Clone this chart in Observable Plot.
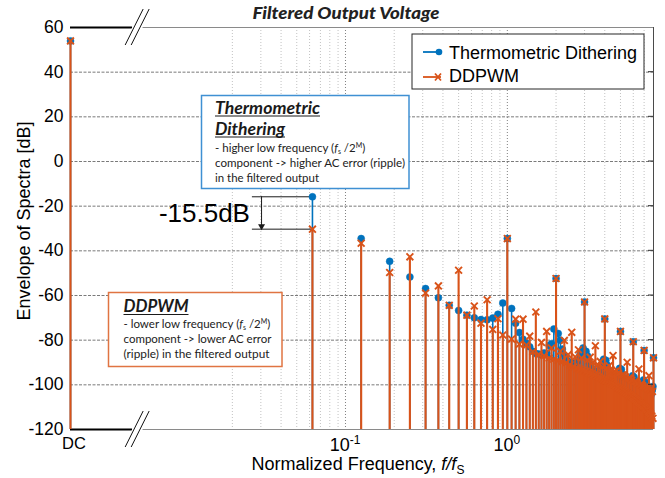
<!DOCTYPE html>
<html><head><meta charset="utf-8">
<script src="https://cdn.jsdelivr.net/npm/d3@7"></script>
<script src="https://cdn.jsdelivr.net/npm/@observablehq/plot@0.6"></script>
<style>
html,body{margin:0;padding:0;background:#fff;}
#chart{width:665px;height:478px;}
</style></head><body><div id="chart"></div>
<script>
// ---------------- data ----------------
const chartTitle = "Filtered Output Voltage";
const seriesNames = ["Thermometric Dithering", "DDPWM"];
const bitsM = 4;                 // harmonics at k * fs / 2^M
const dcLevel = [54, 54];        // [thermometric, ddpwm] DC component, dB
// envelope of spectra (dB) for harmonic k = 1..128
const thermometric = [
 -15.8,-34.5,-44.7,-51.7,-56.9,-61.0,-64.4,-66.7,-68.8,-70.0,-70.8,-70.9,-70.1,-68.4,-63.4,-34.5,
 -65.8,-72.4,-76.6,-79.6,-81.3,-83.0,-85.0,-86.0,-86.2,-86.5,-85.7,-86.0,-82.4,-81.6,-75.0,-52.4,
 -77.0,-80.0,-84.0,-87.0,-88.5,-89.5,-90.0,-90.0,-90.5,-90.5,-90.0,-89.0,-86.5,-85.0,-83.5,-62.9,
 -85.0,-87.0,-89.5,-91.0,-92.5,-93.5,-94.0,-94.5,-94.5,-94.0,-93.5,-92.5,-91.0,-89.5,-88.5,-70.5,
 -89.0,-91.0,-93.0,-95.0,-96.0,-97.0,-98.0,-98.0,-98.5,-98.0,-97.5,-96.5,-95.5,-94.0,-92.6,-76.1,
 -93.0,-95.0,-97.0,-98.5,-99.5,-100.5,-101.0,-101.5,-101.5,-101.0,-100.5,-99.5,-98.5,-97.5,-95.9,-80.7,
 -96.5,-98.0,-99.5,-101.0,-102.0,-103.0,-103.5,-104.0,-104.0,-103.5,-103.0,-102.0,-101.0,-100.0,-97.8,-84.6,
 -98.5,-100.0,-101.5,-103.0,-104.0,-105.0,-105.5,-106.0,-106.0,-105.5,-105.0,-104.0,-103.0,-102.0,-100.7,-87.9
];
const ddpwm = [
 -30.3,-36.6,-49.7,-42.7,-58.9,-55.7,-64.4,-48.7,-68.8,-64.7,-72.4,-61.9,-75.2,-70.4,-77.7,-34.5,
 -79.5,-70.6,-81.8,-70.6,-82.2,-78.2,-85.2,-67.4,-86.4,-81.0,-87.0,-76.1,-88.0,-83.5,-88.5,-52.4,
 -89.0,-85.0,-89.5,-80.1,-90.0,-86.5,-91.0,-76.5,-92.0,-87.5,-92.5,-84.3,-93.0,-88.0,-93.5,-62.9,
 -94.0,-89.0,-94.5,-87.6,-95.0,-90.0,-95.5,-82.5,-96.0,-91.0,-96.5,-89.5,-97.0,-92.0,-97.5,-70.5,
 -98.0,-92.5,-98.5,-91.5,-99.0,-93.5,-99.5,-86.9,-100.0,-94.0,-100.5,-93.5,-101.0,-95.0,-101.5,-76.1,
 -102.0,-95.5,-102.5,-95.5,-103.0,-96.5,-103.5,-89.9,-104.0,-97.0,-104.5,-97.0,-105.0,-98.0,-105.5,-80.7,
 -106.0,-98.5,-106.5,-98.5,-107.0,-99.5,-107.5,-92.9,-108.0,-100.0,-108.5,-99.5,-109.0,-100.5,-109.5,-84.6,
 -110.0,-101.0,-110.5,-100.5,-111.0,-101.5,-112.0,-95.9,-112.5,-102.0,-113.0,-101.5,-114.0,-103.0,-115.0,-87.9
];
const yTicks = [60, 40, 20, 0, -20, -40, -60, -80, -100, -120];
const xTickLabels = [{base: "10", exp: "-1", at: 0.1}, {base: "10", exp: "0", at: 1}];
const majorGrid = [0.1, 1];
const minorGrid = [0.02,0.03,0.04,0.05,0.06,0.07,0.08,0.09,0.2,0.3,0.4,0.5,0.6,0.7,0.8,0.9,2,3,4,5,6,7];
const deltaLabel = "-15.5dB";

// ---------------- layout constants ----------------
const DC_F = 0.002;       // where the DC bin sits at the left edge of the log axis
const X_MAX = 8;
const breakAt = 0.0052;
const blue = "#0072BD", orange = "#D95319";
const sans = "'Liberation Sans', Arial, Helvetica, sans-serif";
const calib = "Lato, 'Open Sans', 'Noto Sans', sans-serif";

const thermoData = [{f: DC_F, v: dcLevel[0]}, ...thermometric.map((v, i) => ({f: (i + 1) / 2 ** bitsM, v}))];
const ddpwmData  = [{f: DC_F, v: dcLevel[1]}, ...ddpwm.map((v, i) => ({f: (i + 1) / 2 ** bitsM, v}))];

const f1 = 1 / 2 ** bitsM;
const annX1 = 0.0266, arrowX = 0.0303, deltaTextX = 0.0257;

const plot = Plot.plot({
  width: 665, height: 478,
  marginLeft: 70, marginRight: 12, marginTop: 27, marginBottom: 49,
  style: {fontFamily: sans, fontSize: "17.5px", background: "#fff", overflow: "visible", color: "#000"},
  x: {type: "log", domain: [DC_F, X_MAX], axis: null},
  y: {domain: [-120, 60], axis: null},
  marks: [
    Plot.ruleX(minorGrid, {stroke: "#c2c2c2", strokeDasharray: "1,2", strokeWidth: 1}),
    Plot.ruleX(majorGrid, {stroke: "#808080", strokeDasharray: "1,2", strokeWidth: 1}),
    Plot.ruleY(yTicks.slice(1, -1), {stroke: "#7a7a7a", strokeDasharray: "3,1.5", strokeWidth: 1}),
    // frame
    Plot.ruleY([60, -120], {x1: breakAt * 1.08, x2: X_MAX, stroke: "#8a8a8a", strokeWidth: 1}),
    Plot.ruleY([60, -120], {x1: DC_F, x2: breakAt * 0.93, stroke: "#000", strokeWidth: 2}),
    Plot.ruleX([X_MAX], {stroke: "#4a4a4a", strokeWidth: 1}),
    // y tick labels
    Plot.text(yTicks, {x: DC_F, y: d => d, text: d => String(d), textAnchor: "end", dx: -7, fontSize: 17.5, fill: "#000"}),
    // -15.5 dB annotation
    Plot.ruleY([thermometric[0], ddpwm[0]], {x1: annX1, x2: f1, stroke: "#1a1a1a", strokeWidth: 1}),
    Plot.ruleX([arrowX], {y1: thermometric[0], y2: ddpwm[0], stroke: "#1a1a1a", strokeWidth: 1}),
    Plot.dot([arrowX], {x: d => d, y: ddpwm[0], symbol: "triangle", r: 2.6, rotate: 180, dy: -3, fill: "#1a1a1a"}),
    Plot.text([deltaLabel], {x: deltaTextX, y: -23.3, text: d => d, textAnchor: "end", fontSize: 26, fill: "#000"}),
    // stems: thermometric (blue) then ddpwm (orange)
    Plot.ruleX(thermoData, {x: "f", y1: -120, y2: "v", stroke: blue, strokeWidth: 1.6}),
    Plot.dot(thermoData, {x: "f", y: "v", r: 3.5, fill: blue, stroke: blue, strokeWidth: 0.5}),
    Plot.ruleX(ddpwmData, {x: "f", y1: -120, y2: "v", stroke: orange, strokeWidth: 2.1}),
    Plot.dot(ddpwmData, {x: "f", y: "v", symbol: "times", r: 3.2, stroke: orange, strokeWidth: 1.9})
  ]
});
document.getElementById("chart").appendChild(plot);

// ---------------- overlays ----------------
const sx = plot.scale("x"), sy = plot.scale("y");
const X = sx.apply ? v => sx.apply(v) : d3.scaleLog().domain([DC_F, X_MAX]).range([70, 653]);
const Y = sy.apply ? v => sy.apply(v) : d3.scaleLinear().domain([-120, 60]).range([429, 27]);
const svg = d3.select(plot);
const g = svg.append("g").attr("text-anchor", "start");

// right-side ticks
yTicks.slice(1, -1).forEach(t => {
  g.append("line").attr("x1", X(X_MAX) - 5).attr("x2", X(X_MAX)).attr("y1", Y(t)).attr("y2", Y(t))
   .attr("stroke", "#333").attr("stroke-width", 1);
});

// axis break marks
const bx = X(breakAt);
[Y(60), Y(-120)].forEach(yy => {
  [-3, 3].forEach(off => {
    g.append("line").attr("x1", bx + off - 9).attr("y1", yy + 18).attr("x2", bx + off + 9).attr("y2", yy - 18)
      .attr("stroke", "#fff").attr("stroke-width", 3);
  });
  [-3, 3].forEach(off => {
    g.append("line").attr("x1", bx + off - 9).attr("y1", yy + 18).attr("x2", bx + off + 9).attr("y2", yy - 18)
      .attr("stroke", "#111").attr("stroke-width", 1);
  });
});

// x tick labels
g.append("text").attr("x", X(DC_F) + 4).attr("y", 448.5).attr("text-anchor", "middle")
  .attr("font-family", sans).attr("font-size", 16.5).text("DC");
xTickLabels.forEach(t => {
  const tx = g.append("text").attr("x", X(t.at)).attr("y", 451).attr("text-anchor", "middle")
    .attr("font-family", sans).attr("font-size", 18);
  tx.append("tspan").text(t.base);
  tx.append("tspan").attr("dy", -7).attr("font-size", 12).text(t.exp);
});

// axis titles
const xl = g.append("text").attr("x", 358).attr("y", 470).attr("text-anchor", "middle")
  .attr("font-family", sans).attr("font-size", 18);
xl.append("tspan").text("Normalized Frequency, ");
xl.append("tspan").attr("font-style", "italic").text("f/f");
xl.append("tspan").attr("font-size", 12).attr("dy", 4).text("S");

g.append("text").attr("transform", "translate(30,221) rotate(-90)").attr("text-anchor", "middle")
  .attr("font-family", sans).attr("font-size", 18).text("Envelope of Spectra [dB]");

// title
g.append("text").attr("x", 346).attr("y", 19).attr("text-anchor", "middle")
  .attr("font-family", calib).attr("font-weight", "900").attr("font-style", "italic")
  .attr("font-size", 16).attr("fill", "#222").attr("textLength", 187).attr("lengthAdjust", "spacingAndGlyphs").text(chartTitle);

// legend
const lg = g.append("g");
lg.append("rect").attr("x", 412).attr("y", 34).attr("width", 232).attr("height", 55)
  .attr("fill", "#fff").attr("stroke", "#262626").attr("stroke-width", 1);
lg.append("line").attr("x1", 423).attr("x2", 441).attr("y1", 52).attr("y2", 52).attr("stroke", blue).attr("stroke-width", 1.8);
lg.append("circle").attr("cx", 439).attr("cy", 52).attr("r", 3.3).attr("fill", blue);
lg.append("line").attr("x1", 423).attr("x2", 441).attr("y1", 77).attr("y2", 77).attr("stroke", orange).attr("stroke-width", 1.8);
lg.append("path").attr("d", "M435,73.5L441,80.5M435,80.5L441,73.5").attr("stroke", orange).attr("stroke-width", 1.8);
lg.append("text").attr("x", 449).attr("y", 58.5).attr("text-anchor", "start").attr("font-family", sans).attr("font-size", 18).text(seriesNames[0]);
lg.append("text").attr("x", 449).attr("y", 82).attr("text-anchor", "start").attr("font-family", sans).attr("font-size", 18).text(seriesNames[1]);

// annotation boxes
function fsLine(parent, x, y, pre) {
  const t = parent.append("text").attr("x", x).attr("y", y).attr("text-anchor", "start").attr("font-family", calib).attr("font-size", 11.5).attr("fill", "#222");
  t.append("tspan").text(pre + " (");
  t.append("tspan").attr("font-style", "italic").text("f");
  t.append("tspan").attr("font-size", 7).attr("dy", 2).text("s");
  t.append("tspan").attr("dy", -2).text(" /2");
  t.append("tspan").attr("font-size", 7).attr("dy", -4).text("M");
  t.append("tspan").attr("dy", 4).text(")");
}
function plain(parent, x, y, s, w) {
  const t = parent.append("text").attr("x", x).attr("y", y).attr("text-anchor", "start").attr("font-family", calib).attr("font-size", 11.5).attr("fill", "#222").text(s);
  if (w) t.attr("textLength", w).attr("lengthAdjust", "spacingAndGlyphs");
}
function heading(parent, x, y, s, w) {
  parent.append("text").attr("x", x).attr("y", y).attr("text-anchor", "start").attr("font-family", calib).attr("font-weight", "bold")
    .attr("font-style", "italic").attr("font-size", 16.5).attr("fill", "#1a1a1a")
    .attr("textLength", w).attr("lengthAdjust", "spacingAndGlyphs").text(s);
  parent.append("line").attr("x1", x).attr("x2", x + w).attr("y1", y + 2.5).attr("y2", y + 2.5).attr("stroke", "#1a1a1a").attr("stroke-width", 1.2);
}
const b1 = g.append("g");
b1.append("rect").attr("x", 201.5).attr("y", 95.5).attr("width", 207.5).attr("height", 93)
  .attr("fill", "#fff").attr("stroke", "#3f90d3").attr("stroke-width", 1.5);
heading(b1, 215, 113.5, "Thermometric", 105);
heading(b1, 215, 134.5, "Dithering", 70);
fsLine(b1, 215, 151.5, "- higher low frequency");
plain(b1, 215, 167, "component -> higher AC error (ripple)", 190);
plain(b1, 215, 182, "in the filtered output", 104);

const b2 = g.append("g");
b2.append("rect").attr("x", 108.5).attr("y", 292.5).attr("width", 173.5).attr("height", 74)
  .attr("fill", "#fff").attr("stroke", "#e07442").attr("stroke-width", 1.5);
heading(b2, 123.5, 312, "DDPWM", 65);
fsLine(b2, 123.5, 327.5, "- lower low frequency");
plain(b2, 123.5, 342.5, "component -> lower AC error", 148);
plain(b2, 123.5, 357.5, "(ripple) in the filtered output", 146);
</script>
</body></html>
